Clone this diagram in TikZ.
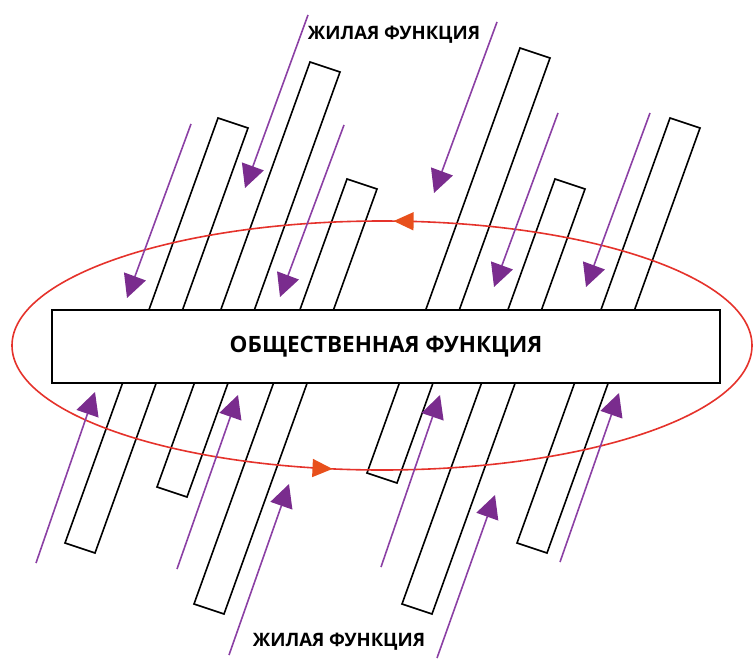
\documentclass[tikz,border=0pt]{standalone}
\usepackage{fontspec}
\setmainfont{Open Sans}
\usetikzlibrary{arrows.meta,decorations.markings}
\definecolor{FlowPurple}{HTML}{8B40A4}
\definecolor{HeadPurple}{HTML}{7A2C8E}
\definecolor{LoopRed}{HTML}{E5322B}
\definecolor{TipOrange}{HTML}{E8501C}

\begin{document}
\begin{tikzpicture}[
    x=1pt, y=-1pt,
    bar/.style={draw=black, fill=white, line width=1.6pt},
    flow/.style={
      draw=FlowPurple, line width=1.6pt,
      -{Triangle[length=23pt,width=23pt,color=HeadPurple]}
    },
    loopline/.style={
      draw=LoopRed, line width=1.6pt,
      postaction={decorate},
      decoration={markings,
        mark=at position 0.28 with {\arrowreversed{Triangle[length=20pt,width=18pt,color=TipOrange]}},
        mark=at position 0.757 with {\arrowreversed{Triangle[length=20pt,width=18pt,color=TipOrange]}}}
    },
    label/.style={font=\bfseries\fontsize{18.5}{22}\selectfont, inner sep=0pt}
  ]
  \useasboundingbox (0,0) rectangle (754,661);

  % slanted bars
  \foreach \x/\y in {218/118, 310/62, 347/179, 520/48, 555/179, 670/118}
    \draw[bar] (\x,\y) -- ++(-153,425) -- ++(30,10) -- ++(153,-425) -- cycle;

  % red cycle
  \draw[loopline] (382,345.5) ellipse [x radius=370, y radius=124.5];

  % purple flows
  \foreach \a/\b/\c/\d in {191/124/127/298, 308/15/245/188, 344/125/280/297,
                           497/22/434/193, 558/113/494/287, 650/113/586/287,
                           36/563/95/392, 177/569/238/395, 229/655/289/484,
                           381/567/440/395, 437/658/495/495, 560/562/619/393}
    \draw[flow] (\a,\b) -- (\c,\d);

  \node[
    draw=black,
    fill=white,
    line width=1.6pt,
    minimum width=668pt,
    minimum height=73pt,
    inner sep=0pt,
    font=\bfseries\fontsize{22.5}{26}\selectfont
  ] (social) at (386,346.5) {ОБЩЕСТВЕННАЯ ФУНКЦИЯ};

  \node[label] (housingTop) at (394,35) {ЖИЛАЯ ФУНКЦИЯ};
  \node[label] (housingBottom) at (339,642) {ЖИЛАЯ ФУНКЦИЯ};
\end{tikzpicture}
\end{document}
